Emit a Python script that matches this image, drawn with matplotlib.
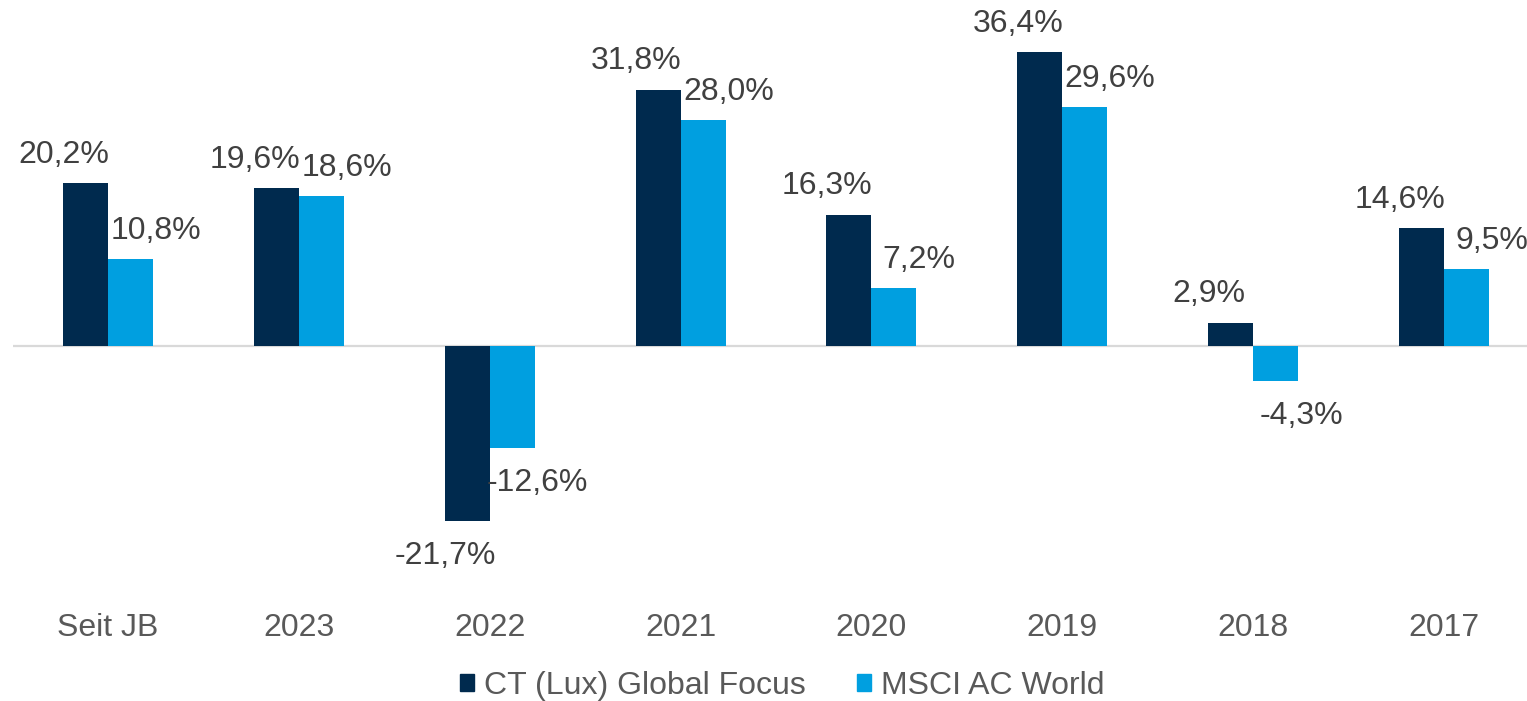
import matplotlib
matplotlib.use("Agg")
import matplotlib.pyplot as plt
from matplotlib.patches import Patch
import numpy as np

plt.rcParams['font.family'] = ['Liberation Sans', 'DejaVu Sans']

categories = ["Seit JB", "2023", "2022", "2021", "2020", "2019", "2018", "2017"]
fund = [20.2, 19.6, -21.7, 31.8, 16.3, 36.4, 2.9, 14.6]
index = [10.8, 18.6, -12.6, 28.0, 7.2, 29.6, -4.3, 9.5]
series_names = ["CT (Lux) Global Focus", "MSCI AC World"]

dark = "#002A4E"
light = "#009FE0"
lbl = "#404040"
txt = "#595959"

def fmt(v):
    return f"{v:.1f}".replace(".", ",") + "%"

fig = plt.figure(figsize=(15.27, 7.01), dpi=100)
ax = fig.add_axes([12.5 / 1527, 101 / 701, 1527 / 1527, 600 / 701])

x = np.arange(len(categories))
w = 0.236
ax.bar(x - w / 2, fund, w, color=dark, zorder=3)
ax.bar(x + w / 2, index, w, color=light, zorder=3)
ax.axhline(0, color="#D9D9D9", lw=1.6, zorder=2)

ax.set_xlim(-0.5, 7.5)
ax.set_ylim(-31.5, 42.9)

# data labels, Excel style: dark label over the left edge, light over the right edge
for i in range(len(categories)):
    for v, xpos in [(fund[i], x[i] - w + 0.005), (index[i], x[i] + w + 0.015)]:
        if v >= 0:
            ax.annotate(fmt(v), (xpos, v), xytext=(0, 14.5), textcoords="offset points",
                        ha="center", va="baseline", fontsize=23, color=lbl, annotation_clip=False)
        else:
            ax.annotate(fmt(v), (xpos, v), xytext=(0, -14.5), textcoords="offset points",
                        ha="center", va="top", fontsize=23, color=lbl, annotation_clip=False)

ax.set_xticks(x)
ax.set_xticklabels(categories, fontsize=23, color=txt)
ax.tick_params(axis="x", length=0, pad=9)
ax.set_yticks([])
for s in ax.spines.values():
    s.set_visible(False)

handles = [Patch(color=dark), Patch(color=light)]
leg = fig.legend(handles, series_names, loc="center", bbox_to_anchor=(782 / 1527, 1 - 686 / 701),
                 ncol=2, frameon=False, fontsize=23, handlelength=0.45, handleheight=0.45,
                 handletextpad=0.3, columnspacing=1.6, borderpad=0)
for t in leg.get_texts():
    t.set_color(txt)

fig.savefig("out.png", dpi=100)
